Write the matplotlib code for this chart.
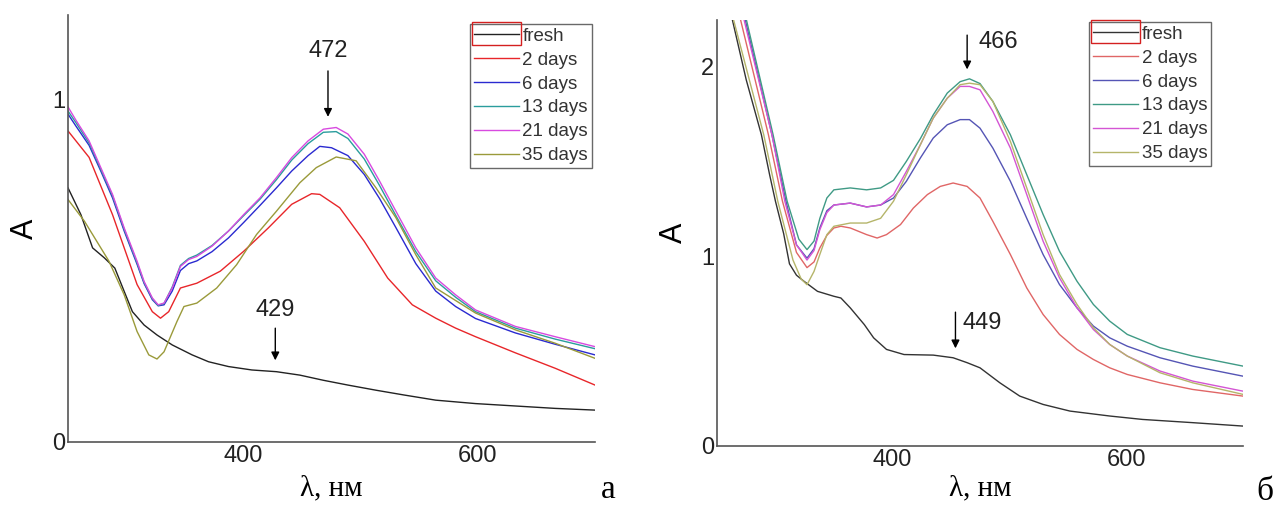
import numpy as np
import matplotlib
matplotlib.use("Agg")
import matplotlib.pyplot as plt
from matplotlib.patches import Rectangle

plt.rcParams['font.family'] = ['Liberation Sans', 'DejaVu Sans']

labels = ["fresh", "2 days", "6 days", "13 days", "21 days", "35 days"]

# ---- panel a ----
fresh_a_x = [250, 261, 271, 281, 290, 298, 305, 315, 326, 339, 356, 370, 387, 407, 428, 448, 468, 489, 513, 537, 564, 598, 632, 666, 700]
fresh_a_y = [0.741, 0.663, 0.566, 0.537, 0.507, 0.439, 0.38, 0.341, 0.312, 0.283, 0.254, 0.234, 0.22, 0.21, 0.205, 0.195, 0.18, 0.166, 0.151, 0.137, 0.122, 0.112, 0.105, 0.098, 0.093]

d2_a_x = [250, 268, 288, 309, 322, 329, 336, 346, 360, 380, 400, 421, 441, 458, 465, 482, 503, 523, 544, 564, 581, 598, 632, 666, 700]
d2_a_y = [0.907, 0.83, 0.663, 0.459, 0.38, 0.361, 0.38, 0.449, 0.463, 0.498, 0.556, 0.624, 0.693, 0.724, 0.722, 0.683, 0.585, 0.478, 0.4, 0.361, 0.332, 0.307, 0.26, 0.215, 0.166]

d6_a_x = [250, 257, 268, 278, 288, 298, 309, 315, 322, 327, 332, 339, 346, 353, 360, 373, 387, 400, 414, 428, 441, 455, 465, 475, 489, 503, 516, 530, 547, 564, 581, 598, 632, 666, 700]
d6_a_y = [0.956, 0.92, 0.865, 0.79, 0.712, 0.615, 0.518, 0.462, 0.415, 0.397, 0.40, 0.44, 0.5, 0.52, 0.528, 0.555, 0.595, 0.64, 0.69, 0.741, 0.79, 0.835, 0.862, 0.858, 0.835, 0.78, 0.71, 0.625, 0.52, 0.44, 0.395, 0.36, 0.318, 0.285, 0.254]

d13_a_x = [250, 257, 268, 278, 288, 298, 309, 315, 322, 327, 332, 339, 346, 353, 360, 373, 387, 400, 414, 428, 441, 455, 468, 479, 489, 503, 516, 530, 547, 564, 581, 598, 632, 666, 700]
d13_a_y = [0.965, 0.93, 0.872, 0.795, 0.718, 0.62, 0.522, 0.465, 0.418, 0.398, 0.404, 0.452, 0.515, 0.535, 0.545, 0.573, 0.615, 0.66, 0.708, 0.765, 0.822, 0.87, 0.903, 0.905, 0.885, 0.825, 0.748, 0.66, 0.555, 0.47, 0.422, 0.38, 0.332, 0.3, 0.272]

d21_a_x = [250, 257, 268, 278, 288, 298, 309, 315, 322, 327, 332, 339, 346, 353, 360, 373, 387, 400, 414, 428, 441, 455, 468, 479, 489, 503, 516, 530, 547, 564, 581, 598, 632, 666, 700]
d21_a_y = [0.977, 0.937, 0.878, 0.8, 0.722, 0.624, 0.527, 0.468, 0.42, 0.40, 0.405, 0.449, 0.512, 0.532, 0.541, 0.571, 0.615, 0.663, 0.712, 0.771, 0.829, 0.878, 0.912, 0.917, 0.898, 0.839, 0.761, 0.673, 0.566, 0.478, 0.429, 0.385, 0.337, 0.307, 0.278]

d35_a_x = [250, 264, 285, 298, 309, 319, 326, 332, 343, 349, 360, 377, 394, 411, 428, 448, 462, 479, 496, 513, 530, 547, 564, 598, 632, 666, 700]
d35_a_y = [0.707, 0.644, 0.527, 0.429, 0.322, 0.254, 0.242, 0.263, 0.351, 0.395, 0.405, 0.449, 0.517, 0.605, 0.673, 0.756, 0.8, 0.831, 0.82, 0.741, 0.654, 0.546, 0.449, 0.376, 0.327, 0.288, 0.244]

# ---- panel b ----
fresh_b_x = [263, 275, 288, 295, 300, 307, 312, 318, 324, 336, 350, 356, 364, 376, 384, 395, 410, 435, 452, 464, 475, 492, 509, 529, 552, 586, 614, 657, 700]
fresh_b_y = [2.25, 1.93, 1.64, 1.43, 1.29, 1.12, 0.96, 0.9, 0.87, 0.815, 0.789, 0.78, 0.728, 0.64, 0.57, 0.509, 0.482, 0.479, 0.465, 0.439, 0.412, 0.333, 0.263, 0.219, 0.184, 0.158, 0.14, 0.123, 0.105]

d2_b_x = [270, 294, 306, 318, 327, 333, 338, 344, 350, 356, 364, 378, 387, 395, 407, 418, 430, 441, 452, 464, 475, 486, 501, 515, 529, 543, 558, 572, 586, 601, 629, 657, 700]
d2_b_y = [2.25, 1.64, 1.29, 1.02, 0.94, 0.97, 1.044, 1.11, 1.149, 1.158, 1.149, 1.114, 1.096, 1.114, 1.167, 1.254, 1.325, 1.368, 1.386, 1.368, 1.307, 1.184, 1.009, 0.833, 0.693, 0.588, 0.509, 0.456, 0.412, 0.377, 0.333, 0.298, 0.263]

d6_b_x = [274, 297, 309, 318, 327, 333, 338, 344, 350, 364, 378, 390, 401, 412, 424, 435, 447, 458, 466, 475, 486, 501, 515, 529, 543, 558, 572, 586, 601, 629, 657, 700]
d6_b_y = [2.25, 1.64, 1.29, 1.06, 0.99, 1.04, 1.15, 1.24, 1.27, 1.28, 1.26, 1.27, 1.307, 1.395, 1.518, 1.623, 1.693, 1.72, 1.72, 1.675, 1.57, 1.395, 1.2, 1.009, 0.851, 0.728, 0.632, 0.57, 0.526, 0.465, 0.421, 0.368]

d13_b_x = [275, 298, 310, 320, 327, 333, 338, 344, 350, 364, 378, 390, 401, 412, 424, 435, 447, 458, 466, 475, 486, 501, 515, 529, 543, 558, 572, 586, 601, 629, 657, 700]
d13_b_y = [2.25, 1.64, 1.29, 1.09, 1.035, 1.08, 1.2, 1.307, 1.35, 1.36, 1.35, 1.36, 1.40, 1.50, 1.62, 1.745, 1.86, 1.92, 1.935, 1.91, 1.816, 1.64, 1.43, 1.22, 1.026, 0.868, 0.746, 0.658, 0.588, 0.518, 0.474, 0.421]

d21_b_x = [273, 297, 308, 318, 327, 333, 338, 344, 350, 364, 378, 390, 401, 412, 424, 435, 447, 458, 466, 475, 486, 501, 515, 529, 543, 558, 572, 586, 601, 629, 657, 700]
d21_b_y = [2.25, 1.64, 1.29, 1.06, 0.98, 1.03, 1.14, 1.23, 1.27, 1.28, 1.26, 1.27, 1.325, 1.447, 1.588, 1.728, 1.833, 1.895, 1.895, 1.877, 1.763, 1.57, 1.325, 1.079, 0.886, 0.728, 0.614, 0.535, 0.474, 0.395, 0.342, 0.289]

d35_b_x = [264, 290, 302, 315, 322, 327, 333, 338, 344, 350, 364, 378, 390, 401, 412, 424, 435, 447, 458, 466, 475, 486, 501, 515, 529, 543, 558, 572, 586, 601, 629, 657, 700]
d35_b_y = [2.25, 1.64, 1.29, 0.98, 0.88, 0.85, 0.92, 1.01, 1.114, 1.158, 1.175, 1.175, 1.2, 1.29, 1.43, 1.588, 1.728, 1.833, 1.904, 1.912, 1.904, 1.816, 1.605, 1.36, 1.114, 0.904, 0.746, 0.623, 0.535, 0.474, 0.386, 0.333, 0.272]

colors_a = ['#222222', '#e8262a', '#2a2ad0', '#2a9d9d', '#d84ae0', '#9a9a3a']
colors_b = ['#333333', '#e06666', '#5555b5', '#3f9a85', '#d455d4', '#b5b56a']

series_a = [(fresh_a_x, fresh_a_y), (d2_a_x, d2_a_y), (d6_a_x, d6_a_y),
            (d13_a_x, d13_a_y), (d21_a_x, d21_a_y), (d35_a_x, d35_a_y)]
series_b = [(fresh_b_x, fresh_b_y), (d2_b_x, d2_b_y), (d6_b_x, d6_b_y),
            (d13_b_x, d13_b_y), (d21_b_x, d21_b_y), (d35_b_x, d35_b_y)]

W, H = 1283, 508
fig = plt.figure(figsize=(W / 100, H / 100), dpi=100)
ax1 = fig.add_axes([68 / W, (H - 442) / H, 527 / W, 427 / H])
ax2 = fig.add_axes([717 / W, (H - 446) / H, 526 / W, 426 / H])


def style(ax, series, colors, ymax, yticks, legend_xy, xpad):
    for (x, y), c, lab in zip(series, colors, labels):
        ax.plot(x, y, color=c, lw=1.0, label=lab)
    ax.set_xlim(250, 700)
    ax.set_ylim(0, ymax)
    ax.set_xticks([400, 600])
    ax.set_yticks(yticks)
    ax.tick_params(length=0, labelsize=17, colors='#222222', pad=2)
    for s in ['top', 'right']:
        ax.spines[s].set_visible(False)
    for s in ['left', 'bottom']:
        ax.spines[s].set_color('#555555')
        ax.spines[s].set_linewidth(1.2)
    ax.set_ylabel("A", fontsize=22, labelpad=9)
    ax.set_xlabel("λ, нм", fontsize=21, family=['Liberation Serif', 'DejaVu Serif'], labelpad=xpad)
    leg = ax.legend(loc='upper left', bbox_to_anchor=legend_xy, bbox_transform=fig.transFigure,
                    fontsize=13.5, handlelength=2.4, handletextpad=0.2, labelspacing=0.36,
                    borderpad=0.2, borderaxespad=0, frameon=True, fancybox=False)
    leg.get_frame().set_edgecolor('#444444')
    leg.get_frame().set_linewidth(1.0)
    for t in leg.get_texts():
        t.set_color('#333333')
    return leg


leg1 = style(ax1, series_a, colors_a, 1.245, [0, 1], (470 / W, 1 - 24 / H), 6)
leg2 = style(ax2, series_b, colors_b, 2.245, [0, 1, 2], (1089 / W, 1 - 22 / H), 3)

arrow = dict(arrowstyle='-|>', color='black', lw=1.0, mutation_scale=12)
ax1.annotate("", xy=(472, 0.94), xytext=(472, 1.09), arrowprops=arrow)
ax1.text(472, 1.14, "472", fontsize=17, ha='center', va='center', color='#222222')
ax1.annotate("", xy=(427, 0.23), xytext=(427, 0.34), arrowprops=arrow)
ax1.text(427, 0.385, "429", fontsize=17, ha='center', va='center', color='#222222')

ax2.annotate("", xy=(464, 1.97), xytext=(464, 2.18), arrowprops=arrow)
ax2.text(474, 2.13, "466", fontsize=17, ha='left', va='center', color='#222222')
ax2.annotate("", xy=(454, 0.50), xytext=(454, 0.72), arrowprops=arrow)
ax2.text(460, 0.65, "449", fontsize=17, ha='left', va='center', color='#222222')

fig.text(608 / W, 1 - 490 / H, "а", fontsize=24, family=['Liberation Serif', 'DejaVu Serif'],
         ha='center', va='center')
fig.text(1265 / W, 1 - 492 / H, "б", fontsize=24, family=['Liberation Serif', 'DejaVu Serif'],
         ha='center', va='center')

# red box around the "fresh" handle
fig.canvas.draw()
inv = fig.transFigure.inverted()
for leg in (leg1, leg2):
    bb = leg.legend_handles[0].get_window_extent()
    x0, y0 = inv.transform((bb.x0 - 2, bb.y0 - 11))
    x1, y1 = inv.transform((bb.x1 + 2, bb.y1 + 12))
    fig.patches.append(Rectangle((x0, y0), x1 - x0, y1 - y0, transform=fig.transFigure,
                                 fill=False, edgecolor='#d42020', lw=1.0, figure=fig))

fig.savefig("out.png", dpi=100)
